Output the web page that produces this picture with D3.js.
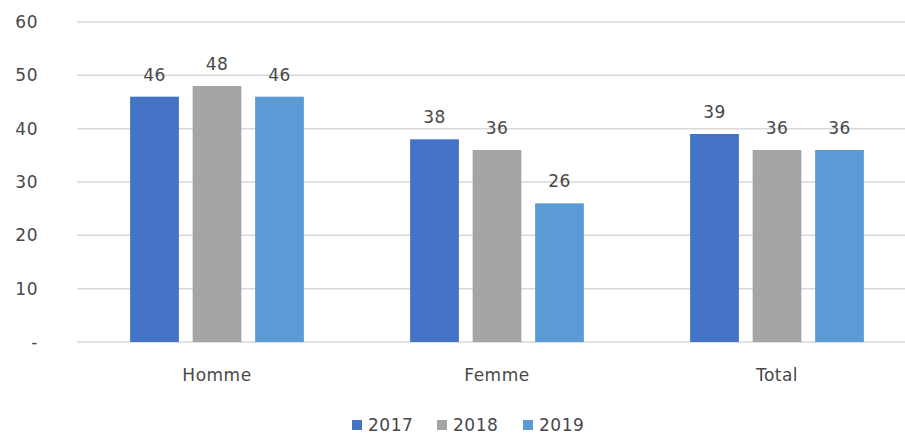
<!DOCTYPE html>
<html>
<head>
<meta charset="utf-8">
<script src="https://cdn.jsdelivr.net/npm/d3@7"></script>
<style>
  body { margin: 0; background: #fff; }
  text { font-family: "DejaVu Sans", sans-serif; fill: #484848; }
</style>
</head>
<body>
<div id="chart"></div>
<script>
var categories = ["Homme", "Femme", "Total"];
var years = ["2017", "2018", "2019"];
var values2017 = [46, 38, 39];
var values2018 = [48, 36, 36];
var values2019 = [46, 26, 36];
var yTicks = [0, 10, 20, 30, 40, 50, 60];
var colors = ["#4472C4", "#A5A5A5", "#5B9BD5"];

var svgWidth = 905;
var svgHeight = 434;

var series = [values2017, values2018, values2019];

var svg = d3.select("#chart")
  .append("svg")
  .attr("width", svgWidth)
  .attr("height", svgHeight);

// x0 for categories, x1 for years inside a category
var x0 = d3.scaleBand()
  .domain(categories)
  .range([77, 917]);

var x1 = d3.scaleBand()
  .domain(years)
  .range([0, x0.bandwidth()])
  .paddingInner(0.22)
  .paddingOuter(0.85);

var y = d3.scaleLinear()
  .domain([0, 60])
  .range([342, 22]);

// gridlines
svg.append("g")
  .selectAll("line")
  .data(yTicks)
  .enter()
  .append("line")
  .attr("x1", 77)
  .attr("x2", svgWidth)
  .attr("y1", d => y(d))
  .attr("y2", d => y(d))
  .attr("stroke", "#d9d9d9")
  .attr("stroke-width", 1.5);

// y tick labels
svg.append("g")
  .selectAll("text")
  .data(yTicks)
  .enter()
  .append("text")
  .attr("x", 38)
  .attr("y", d => y(d))
  .attr("dy", "0.35em")
  .attr("text-anchor", "end")
  .attr("font-size", "17px")
  .attr("letter-spacing", "0.5px")
  .text(d => d === 0 ? "-" : d);

// bars
var groups = svg.append("g")
  .selectAll("g")
  .data(categories)
  .enter()
  .append("g")
  .attr("transform", d => `translate(${x0(d)},0)`);

groups.selectAll("rect")
  .data((d, i) => years.map((yr, j) => ({ year: yr, value: series[j][i], color: colors[j] })))
  .enter()
  .append("rect")
  .attr("x", d => x1(d.year))
  .attr("y", d => y(d.value))
  .attr("width", x1.bandwidth())
  .attr("height", d => y(0) - y(d.value))
  .attr("fill", d => d.color);

// value labels
groups.selectAll("text")
  .data((d, i) => years.map((yr, j) => ({ year: yr, value: series[j][i] })))
  .enter()
  .append("text")
  .attr("x", d => x1(d.year) + x1.bandwidth() / 2)
  .attr("y", d => y(d.value) - 16)
  .attr("text-anchor", "middle")
  .attr("font-size", "17px")
  .attr("letter-spacing", "0.5px")
  .text(d => d.value);

// category labels
svg.append("g")
  .selectAll("text")
  .data(categories)
  .enter()
  .append("text")
  .attr("x", d => x0(d) + x0.bandwidth() / 2)
  .attr("y", 381)
  .attr("text-anchor", "middle")
  .attr("font-size", "17px")
  .attr("letter-spacing", "0.5px")
  .text(d => d);

// legend
var legendX = [352, 437, 523];
var legend = svg.append("g")
  .selectAll("g")
  .data(years)
  .enter()
  .append("g")
  .attr("transform", (d, i) => `translate(${legendX[i]}, 420)`);

legend.append("rect")
  .attr("width", 10)
  .attr("height", 10)
  .attr("fill", (d, i) => colors[i]);

legend.append("text")
  .attr("x", 16)
  .attr("y", 11)
  .attr("font-size", "17px")
  .attr("letter-spacing", "0.5px")
  .text(d => d);
</script>
</body>
</html>
